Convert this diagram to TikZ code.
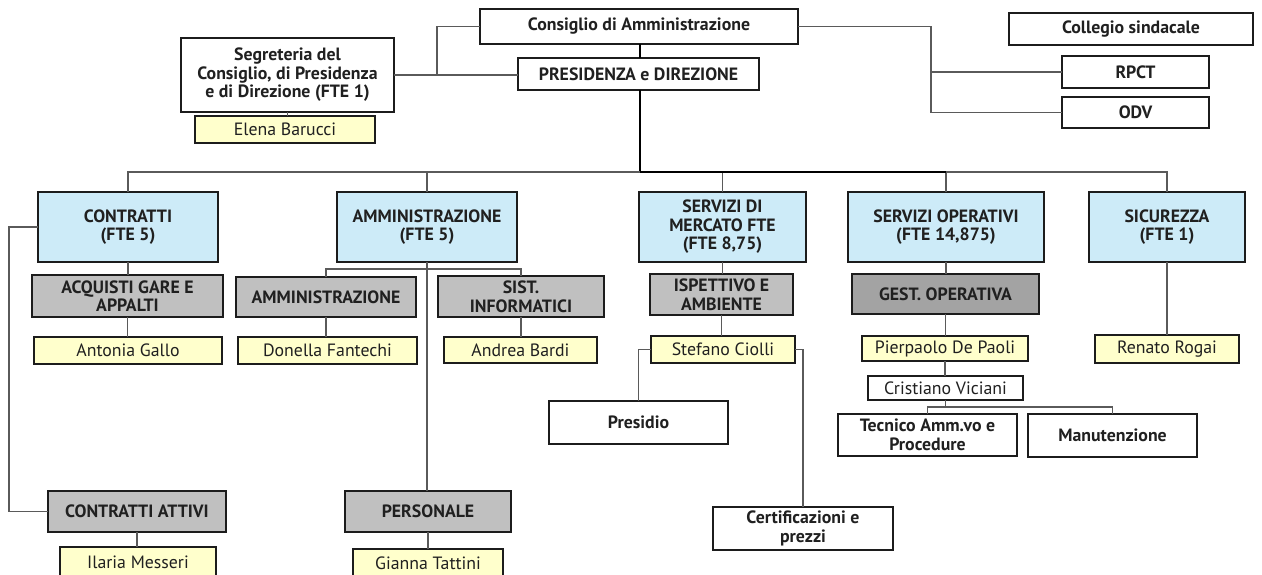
\documentclass[tikz,border=0pt]{standalone}
\usepackage{fontspec}
\setmainfont{PT Sans}
\definecolor{bluefill}{HTML}{CDEBF8}
\definecolor{grayfill}{HTML}{C0C0C0}
\definecolor{darkfill}{HTML}{A3A3A3}
\definecolor{yellowfill}{HTML}{FFFFCC}
\definecolor{boxline}{HTML}{1C1C1C}
\definecolor{textc}{HTML}{202020}
\definecolor{conncol}{HTML}{5A5A5A}
\tikzset{
  orgbase/.style={draw=boxline, line width=1.8pt, anchor=north west, align=center,
    inner sep=1pt, outer sep=0pt, text=textc, font=\bfseries\fontsize{17.8}{18.6}\selectfont},
  wbox/.style={orgbase, fill=white},
  bbox/.style={orgbase, fill=bluefill},
  gbox/.style={orgbase, fill=grayfill},
  dbox/.style={orgbase, fill=darkfill},
  ybox/.style={orgbase, fill=yellowfill, font=\fontsize{17.8}{18.6}\selectfont},
  cbox/.style={orgbase, fill=white, line width=1.2pt, font=\fontsize{17.8}{18.6}\selectfont},
  conn/.style={draw=conncol, line width=1.2pt},
  mainconn/.style={draw=black, line width=1.8pt},
}
\newcommand\orgbox[7]{\node[#2, minimum width={#5pt-#3pt}, minimum height={#6pt-#4pt}] (#1) at (#3,-#4) {#7};}
\begin{document}
\begin{tikzpicture}[x=1pt, y=1pt]
\fill[white] (0,0) rectangle (1262,-575);
\useasboundingbox (0,0) rectangle (1262,-575);
% top level
\orgbox{cons}{wbox}{480}{9}{798}{44}{Consiglio di Amministrazione}
\orgbox{pres}{wbox}{518}{58}{759}{90}{PRESIDENZA e DIREZIONE}
\orgbox{coll}{wbox}{1009}{13}{1253}{45}{Collegio sindacale}
\orgbox{rpct}{wbox}{1062}{56}{1209}{88}{RPCT}
\orgbox{odv}{wbox}{1062}{97}{1209}{128}{ODV}
\orgbox{segr}{wbox}{181}{38}{394}{112}{Segreteria del\\Consiglio, di Presidenza\\e di Direzione (FTE 1)}
\orgbox{elena}{ybox}{195}{116}{375}{143}{Elena Barucci}
% level 2
\orgbox{contr}{bbox}{38}{192}{218}{262}{CONTRATTI\\(FTE 5)}
\orgbox{ammb}{bbox}{337}{192}{517}{262}{AMMINISTRAZIONE\\(FTE 5)}
\orgbox{sdm}{bbox}{639}{192}{806}{262}{SERVIZI DI\\MERCATO FTE\\(FTE 8,75)}
\orgbox{sop}{bbox}{848}{192}{1044}{262}{SERVIZI OPERATIVI\\(FTE 14,875)}
\orgbox{sic}{bbox}{1089}{192}{1245}{262}{SICUREZZA\\(FTE 1)}
% level 3
\orgbox{acq}{gbox}{32}{275}{223}{317}{ACQUISTI GARE E\\APPALTI}
\orgbox{antonia}{ybox}{34}{337}{222}{364}{Antonia Gallo}
\orgbox{ammg}{gbox}{236}{277}{416}{317}{AMMINISTRAZIONE}
\orgbox{donella}{ybox}{238}{337}{417}{364}{Donella Fantechi}
\orgbox{sist}{gbox}{438}{276}{604}{317}{SIST.\\INFORMATICI}
\orgbox{andrea}{ybox}{444}{337}{597}{363}{Andrea Bardi}
\orgbox{isp}{gbox}{650}{274}{793}{315}{ISPETTIVO E\\AMBIENTE}
\orgbox{stef}{ybox}{651}{336}{795}{363}{Stefano Ciolli}
\orgbox{presidio}{wbox}{549}{401}{728}{444}{Presidio}
\orgbox{cert}{wbox}{713}{507}{893}{550}{Certificazioni e\\prezzi}
\orgbox{gest}{dbox}{852}{274}{1039}{314}{GEST. OPERATIVA}
\orgbox{pier}{ybox}{862}{336}{1028}{361}{Pierpaolo De Paoli}
\orgbox{cris}{cbox}{868}{376}{1023}{400}{Cristiano Viciani}
\orgbox{tec}{wbox}{838}{414}{1017}{456}{Tecnico Amm.vo e\\Procedure}
\orgbox{manu}{wbox}{1028}{414}{1197}{457}{Manutenzione}
\orgbox{renato}{ybox}{1095}{335}{1239}{363}{Renato Rogai}
\orgbox{cattivi}{gbox}{48}{491}{226}{532}{CONTRATTI ATTIVI}
\orgbox{ilaria}{ybox}{60}{547}{216}{578}{Ilaria Messeri}
\orgbox{pers}{gbox}{345}{491}{511}{532}{PERSONALE}
\orgbox{gianna}{ybox}{353}{549}{503}{578}{Gianna Tattini}
% helper coordinates
\coordinate (x640) at (640,0);
\coordinate (x437) at (437,0);
\coordinate (x931) at (931,0);
\coordinate (x9) at (9,0);
\coordinate (busy) at (0,-172);
\coordinate (sby) at (0,-269);
\coordinate (sb2) at (0,-407);
% connectors top
\draw[conn] (segr.east) -- (segr.east -| pres.west);
\draw[conn] (segr.east -| x437) |- (cons.west);
\draw[conn] (segr.south) -- (segr.south |- elena.north);
\draw[conn] (cons.east) -| (x931 |- odv.west) -- (odv.west);
\draw[conn] (x931 |- rpct.west) -- (rpct.west);
\draw[mainconn] (cons.south -| x640) -- (pres.north -| x640);
\draw[mainconn] (pres.south -| x640) -- (x640 |- busy);
% bus
\draw[conn] (contr.north) |- (sic.north |- busy) -- (sic.north);
\draw[conn] (ammb.north) -- (ammb.north |- busy);
\draw[conn] (sdm.north) -- (sdm.north |- busy);
\draw[conn] (sop.north) -- (sop.north |- busy);
\draw[mainconn] (x640 |- busy) -- (sop.north |- busy);
% contratti
\draw[conn] (contr.south) -- (contr.south |- acq.north);
\draw[conn] (acq.south) -- (acq.south |- antonia.north);
\draw[conn] (contr.west) -| (x9 |- cattivi.west) -- (cattivi.west);
\draw[conn] (cattivi.south) -- (cattivi.south |- ilaria.north);
% amministrazione
\draw[conn] (ammg.north) |- (sist.north |- sby) -- (sist.north);
\draw[conn] (ammb.south) -- (ammb.south |- pers.north);
\draw[conn] (ammg.south) -- (ammg.south |- donella.north);
\draw[conn] (sist.south) -- (sist.south |- andrea.north);
\draw[conn] (pers.south) -- (pers.south |- gianna.north);
% servizi di mercato
\draw[conn] (sdm.south) -- (sdm.south |- isp.north);
\draw[conn] (isp.south) -- (isp.south |- stef.north);
\draw[conn] (stef.west) -| (presidio.north);
\draw[conn] (stef.east) -| (cert.north);
% servizi operativi
\draw[conn] (sop.south) -- (sop.south |- gest.north);
\draw[conn] (gest.south) -- (gest.south |- pier.north);
\draw[conn] (pier.south) -- (pier.south |- cris.north);
\draw[conn] (cris.south) -- (cris.south |- sb2);
\draw[conn] (tec.north) |- (manu.north |- sb2) -- (manu.north);
% sicurezza
\draw[conn] (sic.south) -- (sic.south |- renato.north);
\end{tikzpicture}
\end{document}
